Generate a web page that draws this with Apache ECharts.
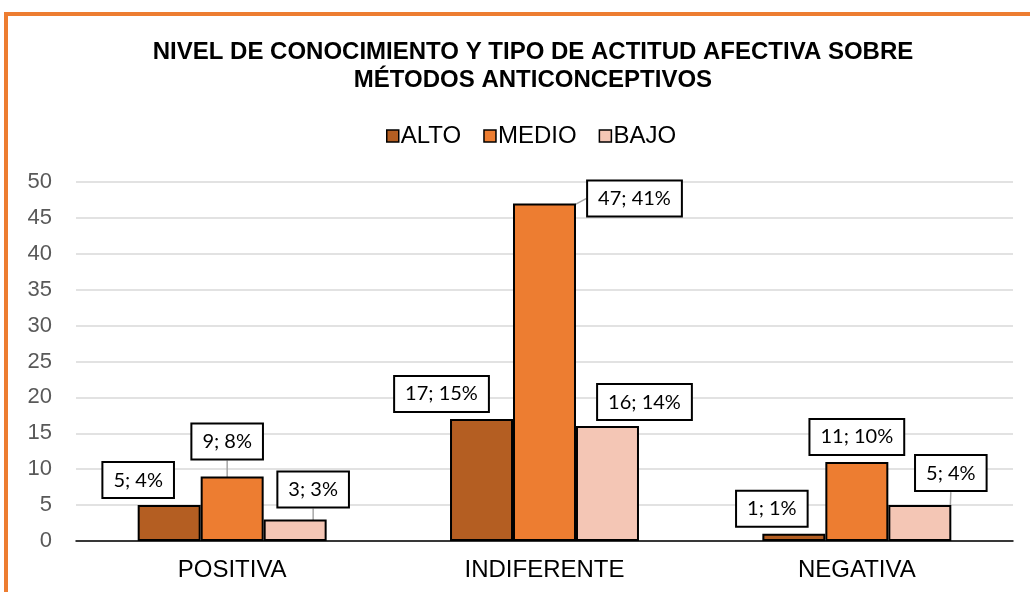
<!DOCTYPE html>
<html>
<head>
<meta charset="utf-8">
<script src="https://cdn.jsdelivr.net/npm/echarts@6/dist/echarts.min.js"></script>
<style>
  html, body { margin: 0; padding: 0; background: #fff; }
  #main { width: 1030px; height: 592px; }
</style>
</head>
<body>
<div id="main"></div>
<script>
// categories and series values
var categories = ["POSITIVA", "INDIFERENTE", "NEGATIVA"];
var alto = [5, 17, 1];
var medio = [9, 47, 11];
var bajo = [3, 16, 5];
var altoPct = ["4%", "15%", "1%"];
var medioPct = ["8%", "41%", "10%"];
var bajoPct = ["3%", "14%", "4%"];
var yTicks = [0, 50, 5]; // min, max, step

// where each label box sits relative to the top of its bar (styling only)
var labelShift = [
  [[-31, -8], [-40, -8], [-22, -8]],
  [[-5, -18], [90, 12], [0, -8]],
  [[18, -13], [37, -7], [31, -15]]
];
var showLeader = [
  [false, false, false],
  [true, true, false],
  [true, false, true]
];

var dom = document.getElementById('main');
var chart = echarts.init(dom);

function makeSeries(name, values, pcts, color, idx) {
  return {
    name: name,
    type: "bar",
    barGap: "0%",
    barCategoryGap: "39.5%",
    itemStyle: { color: color, borderColor: "#000", borderWidth: 2 },
    data: values.map(function (v, i) {
      return { value: v, labelLine: { show: showLeader[idx][i] } };
    }),
    label: {
      show: true,
      position: "top",
      distance: 0,
      formatter: function (p) { return p.value + "; " + pcts[p.dataIndex]; },
      fontFamily: "Lato",
      fontSize: 20,
      color: "#000",
      backgroundColor: "#fff",
      borderColor: "#000",
      borderWidth: 2,
      padding: [7, 10, 7, 10]
    },
    labelLine: {
      lineStyle: { color: "#a6a6a6", width: 1.5 }
    },
    labelLayout: function (params) {
      var s = labelShift[idx][params.dataIndex];
      return { dx: s[0], dy: s[1] };
    }
  };
}

chart.setOption({
  animation: false,
  graphic: [{
    type: "rect",
    shape: { x: 6, y: 14, width: 1100, height: 700 },
    style: { fill: "none", stroke: "#ed7d31", lineWidth: 4 },
    z: 100
  }],
  title: {
    text: "NIVEL DE CONOCIMIENTO Y TIPO DE ACTITUD AFECTIVA SOBRE\nMÉTODOS ANTICONCEPTIVOS",
    left: 528,
    top: 33,
    textAlign: "center",
    textStyle: {
      fontFamily: "Liberation Sans",
      fontWeight: "bold",
      fontSize: 24,
      lineHeight: 28,
      color: "#000"
    }
  },
  legend: {
    top: 119,
    left: 381,
    itemWidth: 12,
    itemHeight: 12,
    itemGap: 22,
    icon: "rect",
    itemStyle: { borderColor: "#000", borderWidth: 1.5 },
    textStyle: { fontFamily: "Liberation Sans", fontSize: 24, color: "#000", padding: [0, 0, 0, -3] },
    data: ["ALTO", "MEDIO", "BAJO"]
  },
  grid: { left: 76, right: 17, top: 182, bottom: 51, containLabel: false },
  xAxis: {
    type: "category",
    data: categories,
    axisLine: { lineStyle: { color: "#000", width: 1.5 } },
    axisTick: { show: false },
    axisLabel: { fontFamily: "Liberation Sans", fontSize: 24, color: "#000", margin: 17 }
  },
  yAxis: {
    type: "value",
    min: yTicks[0],
    max: yTicks[1],
    interval: yTicks[2],
    axisLine: { show: false },
    axisTick: { show: false },
    splitLine: { lineStyle: { color: "#d9d9d9", width: 1.5 } },
    axisLabel: { fontFamily: "Liberation Sans", fontSize: 22, color: "#595959", margin: 24 }
  },
  series: [
    makeSeries("ALTO", alto, altoPct, "#b45e22", 0),
    makeSeries("MEDIO", medio, medioPct, "#ed7d31", 1),
    makeSeries("BAJO", bajo, bajoPct, "#f4c6b5", 2)
  ]
});
</script>
</body>
</html>
